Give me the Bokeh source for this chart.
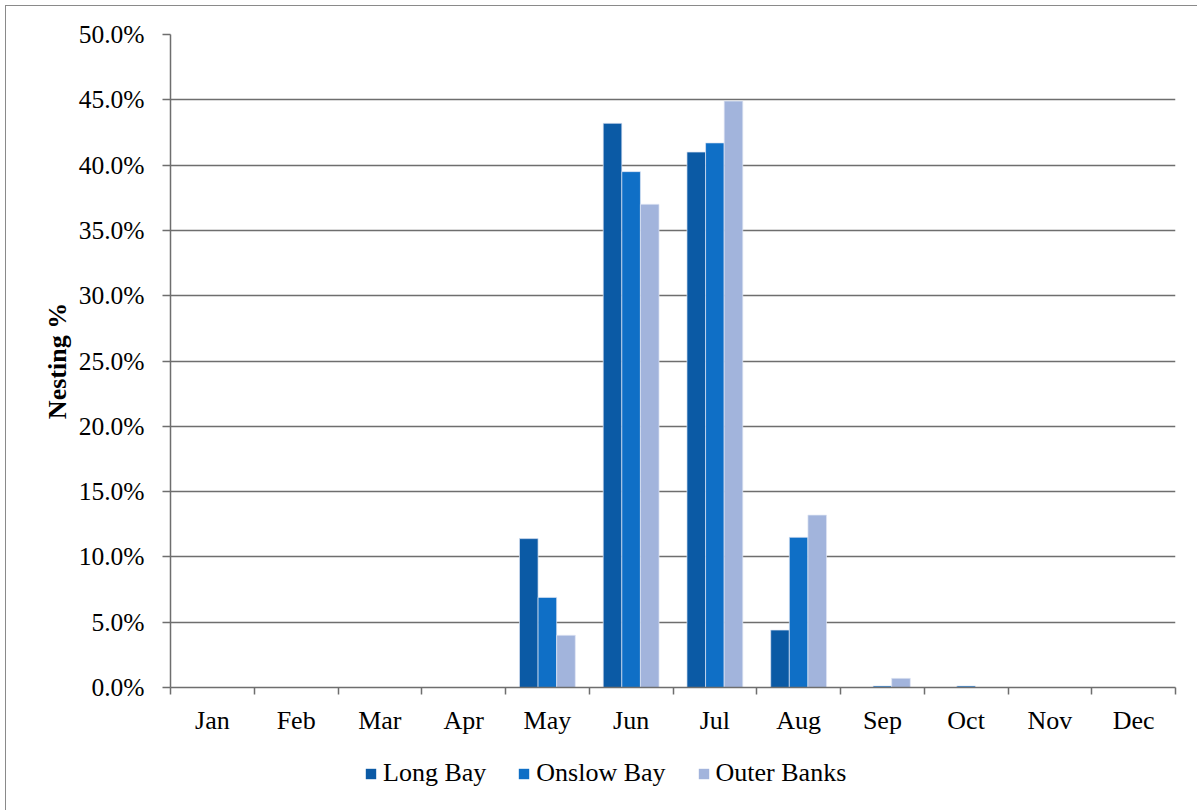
import numpy as np
from bokeh.plotting import figure
from bokeh.layouts import column
from bokeh.models import (Range1d, FixedTicker, PrintfTickFormatter, Legend,
                          LegendItem)
from bokeh.embed import file_html
from bokeh.resources import INLINE

# Monthly share of nests (%) per region
months = ["Jan", "Feb", "Mar", "Apr", "May", "Jun",
          "Jul", "Aug", "Sep", "Oct", "Nov", "Dec"]
long_bay = [0, 0, 0, 0, 11.4, 43.2, 41.0, 4.4, 0, 0, 0, 0]
onslow_bay = [0, 0, 0, 0, 6.9, 39.5, 41.7, 11.5, 0.12, 0.12, 0, 0]
outer_banks = [0, 0, 0, 0, 4.0, 37.0, 44.9, 13.2, 0.7, 0, 0, 0]
series_names = ["Long Bay", "Onslow Bay", "Outer Banks"]
series_colors = ["#0b5aa5", "#0f6fc6", "#a2b4dc"]
y_ticks = [0, 5, 10, 15, 20, 25, 30, 35, 40, 45, 50]

FONT = "Liberation Serif"
GRID = "#6e6e6e"
W = 1191

p = figure(width=W, height=736, output_backend="svg", toolbar_location=None,
           x_range=Range1d(0, 12), y_range=Range1d(0, 50),
           min_border_left=164, min_border_right=22,
           min_border_top=28, min_border_bottom=55)
p.outline_line_color = None
p.background_fill_color = "white"
p.border_fill_color = "white"

bar_w = 1.0 / 4.5
centers = np.arange(len(months)) + 0.5
series = [long_bay, onslow_bay, outer_banks]
for k, (vals, col) in enumerate(zip(series, series_colors)):
    p.vbar(x=centers + (k - 1) * bar_w, top=vals, bottom=0, width=bar_w,
           fill_color=col, line_color="#dfe6f3", line_alpha=0.7, line_width=1)

# x axis: labels at month centres, tick marks between months
p.xaxis.ticker = FixedTicker(ticks=list(centers), minor_ticks=list(range(len(months) + 1)))
p.xaxis.major_label_overrides = {float(c): m for c, m in zip(centers, months)}
p.xaxis.major_tick_line_color = None
p.xaxis.major_tick_out = 0
p.xaxis.major_tick_in = 0
p.xaxis.minor_tick_line_color = GRID
p.xaxis.minor_tick_line_width = 1.5
p.xaxis.minor_tick_out = 7
p.xaxis.minor_tick_in = 0
p.xaxis.major_label_standoff = 11
p.xaxis.major_label_text_font = FONT
p.xaxis.major_label_text_font_size = "26px"
p.xaxis.major_label_text_color = "black"
p.xaxis.axis_line_color = GRID
p.xaxis.axis_line_width = 1.5
p.xgrid.visible = False

# y axis
p.yaxis.ticker = FixedTicker(ticks=y_ticks)
p.yaxis.formatter = PrintfTickFormatter(format="%.1f%%")
p.yaxis.major_tick_line_color = GRID
p.yaxis.major_tick_line_width = 1.5
p.yaxis.major_tick_out = 8
p.yaxis.major_tick_in = 0
p.yaxis.minor_tick_line_color = None
p.yaxis.major_label_standoff = 18
p.yaxis.major_label_text_font = FONT
p.yaxis.major_label_text_font_size = "25.5px"
p.yaxis.major_label_text_color = "black"
p.yaxis.axis_line_color = GRID
p.yaxis.axis_line_width = 1.5
p.yaxis.axis_label = "Nesting %"
p.yaxis.axis_label_text_font = FONT
p.yaxis.axis_label_text_font_style = "bold"
p.yaxis.axis_label_text_font_size = "26px"
p.yaxis.axis_label_text_color = "black"
p.yaxis.axis_label_standoff = 4
p.ygrid.ticker = FixedTicker(ticks=y_ticks)
p.ygrid.grid_line_color = GRID
p.ygrid.grid_line_width = 1.5

# legend strip below the chart; its bars lie below its visible y range,
# so only the legend swatches show
leg = figure(width=W, height=68, output_backend="svg", toolbar_location=None,
             x_range=Range1d(0, 12), y_range=Range1d(1000, 1001),
             x_axis_location=None, y_axis_location=None, min_border=0)
leg.outline_line_color = None
leg.background_fill_color = None
leg.border_fill_color = None
leg.xgrid.visible = False
leg.ygrid.visible = False
swatches = [leg.vbar(x=centers + (k - 1) * bar_w, top=vals, bottom=0, width=bar_w,
                     fill_color=col, line_color=None)
            for k, (vals, col) in enumerate(zip(series, series_colors))]
legend = Legend(items=[LegendItem(label=n, renderers=[r]) for n, r in zip(series_names, swatches)],
                orientation="horizontal", location=(194, 22),
                glyph_width=13, glyph_height=13, label_standoff=6, spacing=31,
                padding=0, margin=0, border_line_color=None,
                background_fill_alpha=0, label_text_font=FONT,
                label_text_font_size="26px", label_text_color="black")
leg.add_layout(legend, "center")

page = column(p, leg, spacing=0,
              styles={"margin-left": "5px", "margin-top": "5px",
                      "border-left": "1px solid #8a8a8a",
                      "border-top": "1px solid #8a8a8a"})

open("out.html", "w").write(file_html(page, INLINE))
